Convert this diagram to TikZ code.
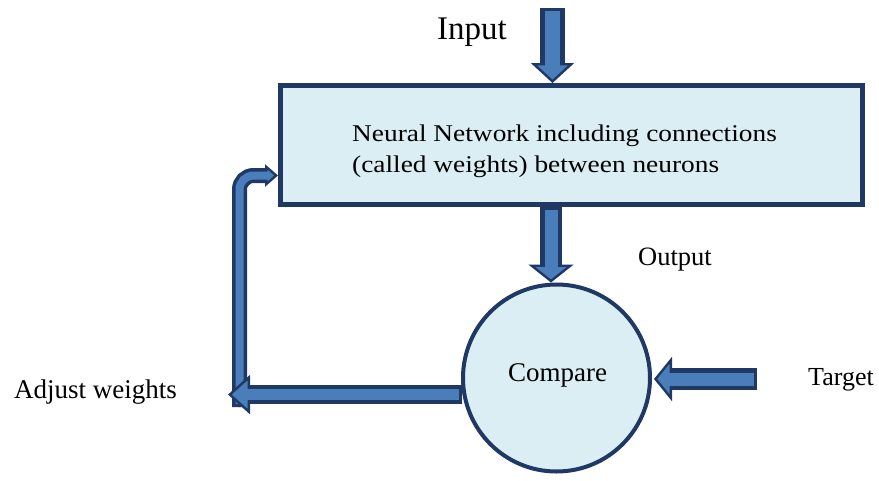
\documentclass[tikz,border=0pt]{standalone}
\usepackage{fontspec}
\setmainfont{Liberation Serif}
\newfontfamily\boxfont[FakeStretch=1.14]{Liberation Serif}
\usetikzlibrary{arrows.meta}
\definecolor{darkb}{HTML}{203864}
\definecolor{midb}{HTML}{4A7EBB}
\definecolor{lightb}{HTML}{DAEEF3}
% outer width, inner width, head length, head width, path
\newcommand\myblockarrow[5]{%
  \draw[darkb, line width=2.4pt, -{Triangle[length=#3pt, width=#4pt, fill=midb]}] #5;
  \draw[darkb, line width=#1pt, shorten >=#3pt-2pt] #5;
  \draw[midb, line width=#2pt, shorten >=#3pt-5pt, shorten <=3pt] #5;
}
\tikzset{
  lbl/.style={anchor=base west, inner sep=0pt, text=black},
  nnbox/.style={draw=darkb, line width=5pt, fill=lightb, inner sep=0pt},
  cmpcircle/.style={circle, draw=darkb, line width=4pt, fill=lightb, inner sep=0pt},
}
\begin{document}
\begin{tikzpicture}[x=1pt,y=-1pt]
\useasboundingbox[fill=white] (0,0) rectangle (879,480);

\node[nnbox, minimum width=582pt, minimum height=119pt] (nn) at (571.5,145) {};
\node[cmpcircle, minimum size=187pt] (cmp) at (556.5,378) {};

\node[lbl, font=\boxfont\fontsize{24}{28}\selectfont] (t1) at (352,141) {Neural Network including connections};
\node[lbl, font=\boxfont\fontsize{24}{28}\selectfont] (t2) at (352,172) {(called weights) between neurons};
\node[lbl, font=\fontsize{33}{38}\selectfont] (inl) at (437,39) {Input};
\node[lbl, font=\fontsize{26.5}{30}\selectfont] (outl) at (638,265) {Output};
\node[lbl, font=\fontsize{27}{31}\selectfont] (cmpl) at (508,381) {Compare};
\node[lbl, font=\fontsize{26}{30}\selectfont] (tgl) at (808,385) {Target};
\node[lbl, font=\fontsize{27}{31}\selectfont] (adjl) at (14,398) {Adjust weights};

\coordinate (inTop) at (552.5,8);
\coordinate (outX) at (551,0);
\coordinate (tgtStart) at (757,379);
\coordinate (adjX) at (228,0);
\coordinate (bentBot) at (239.5,407);
\coordinate (bentY) at (0,175.5);

% Input arrow
\myblockarrow{25}{15}{20}{43}{(inTop) -- (inTop |- nn.north)}
% Output arrow
\myblockarrow{22}{13}{18}{45}{(outX |- nn.south) -- (outX |- cmp.north)}
% Target arrow
\myblockarrow{22}{13}{18}{44}{(tgtStart) -- ([xshift=2pt]tgtStart -| cmp.east)}
% Feedback: up to the network
\myblockarrow{15}{8}{13}{22}{(bentBot) [rounded corners=14pt] |- (nn.west |- bentY)}
% Feedback: out of the comparison
\myblockarrow{19}{11}{22}{39}{(cmp.190) -- (cmp.190 -| adjX)}
\end{tikzpicture}
\end{document}
